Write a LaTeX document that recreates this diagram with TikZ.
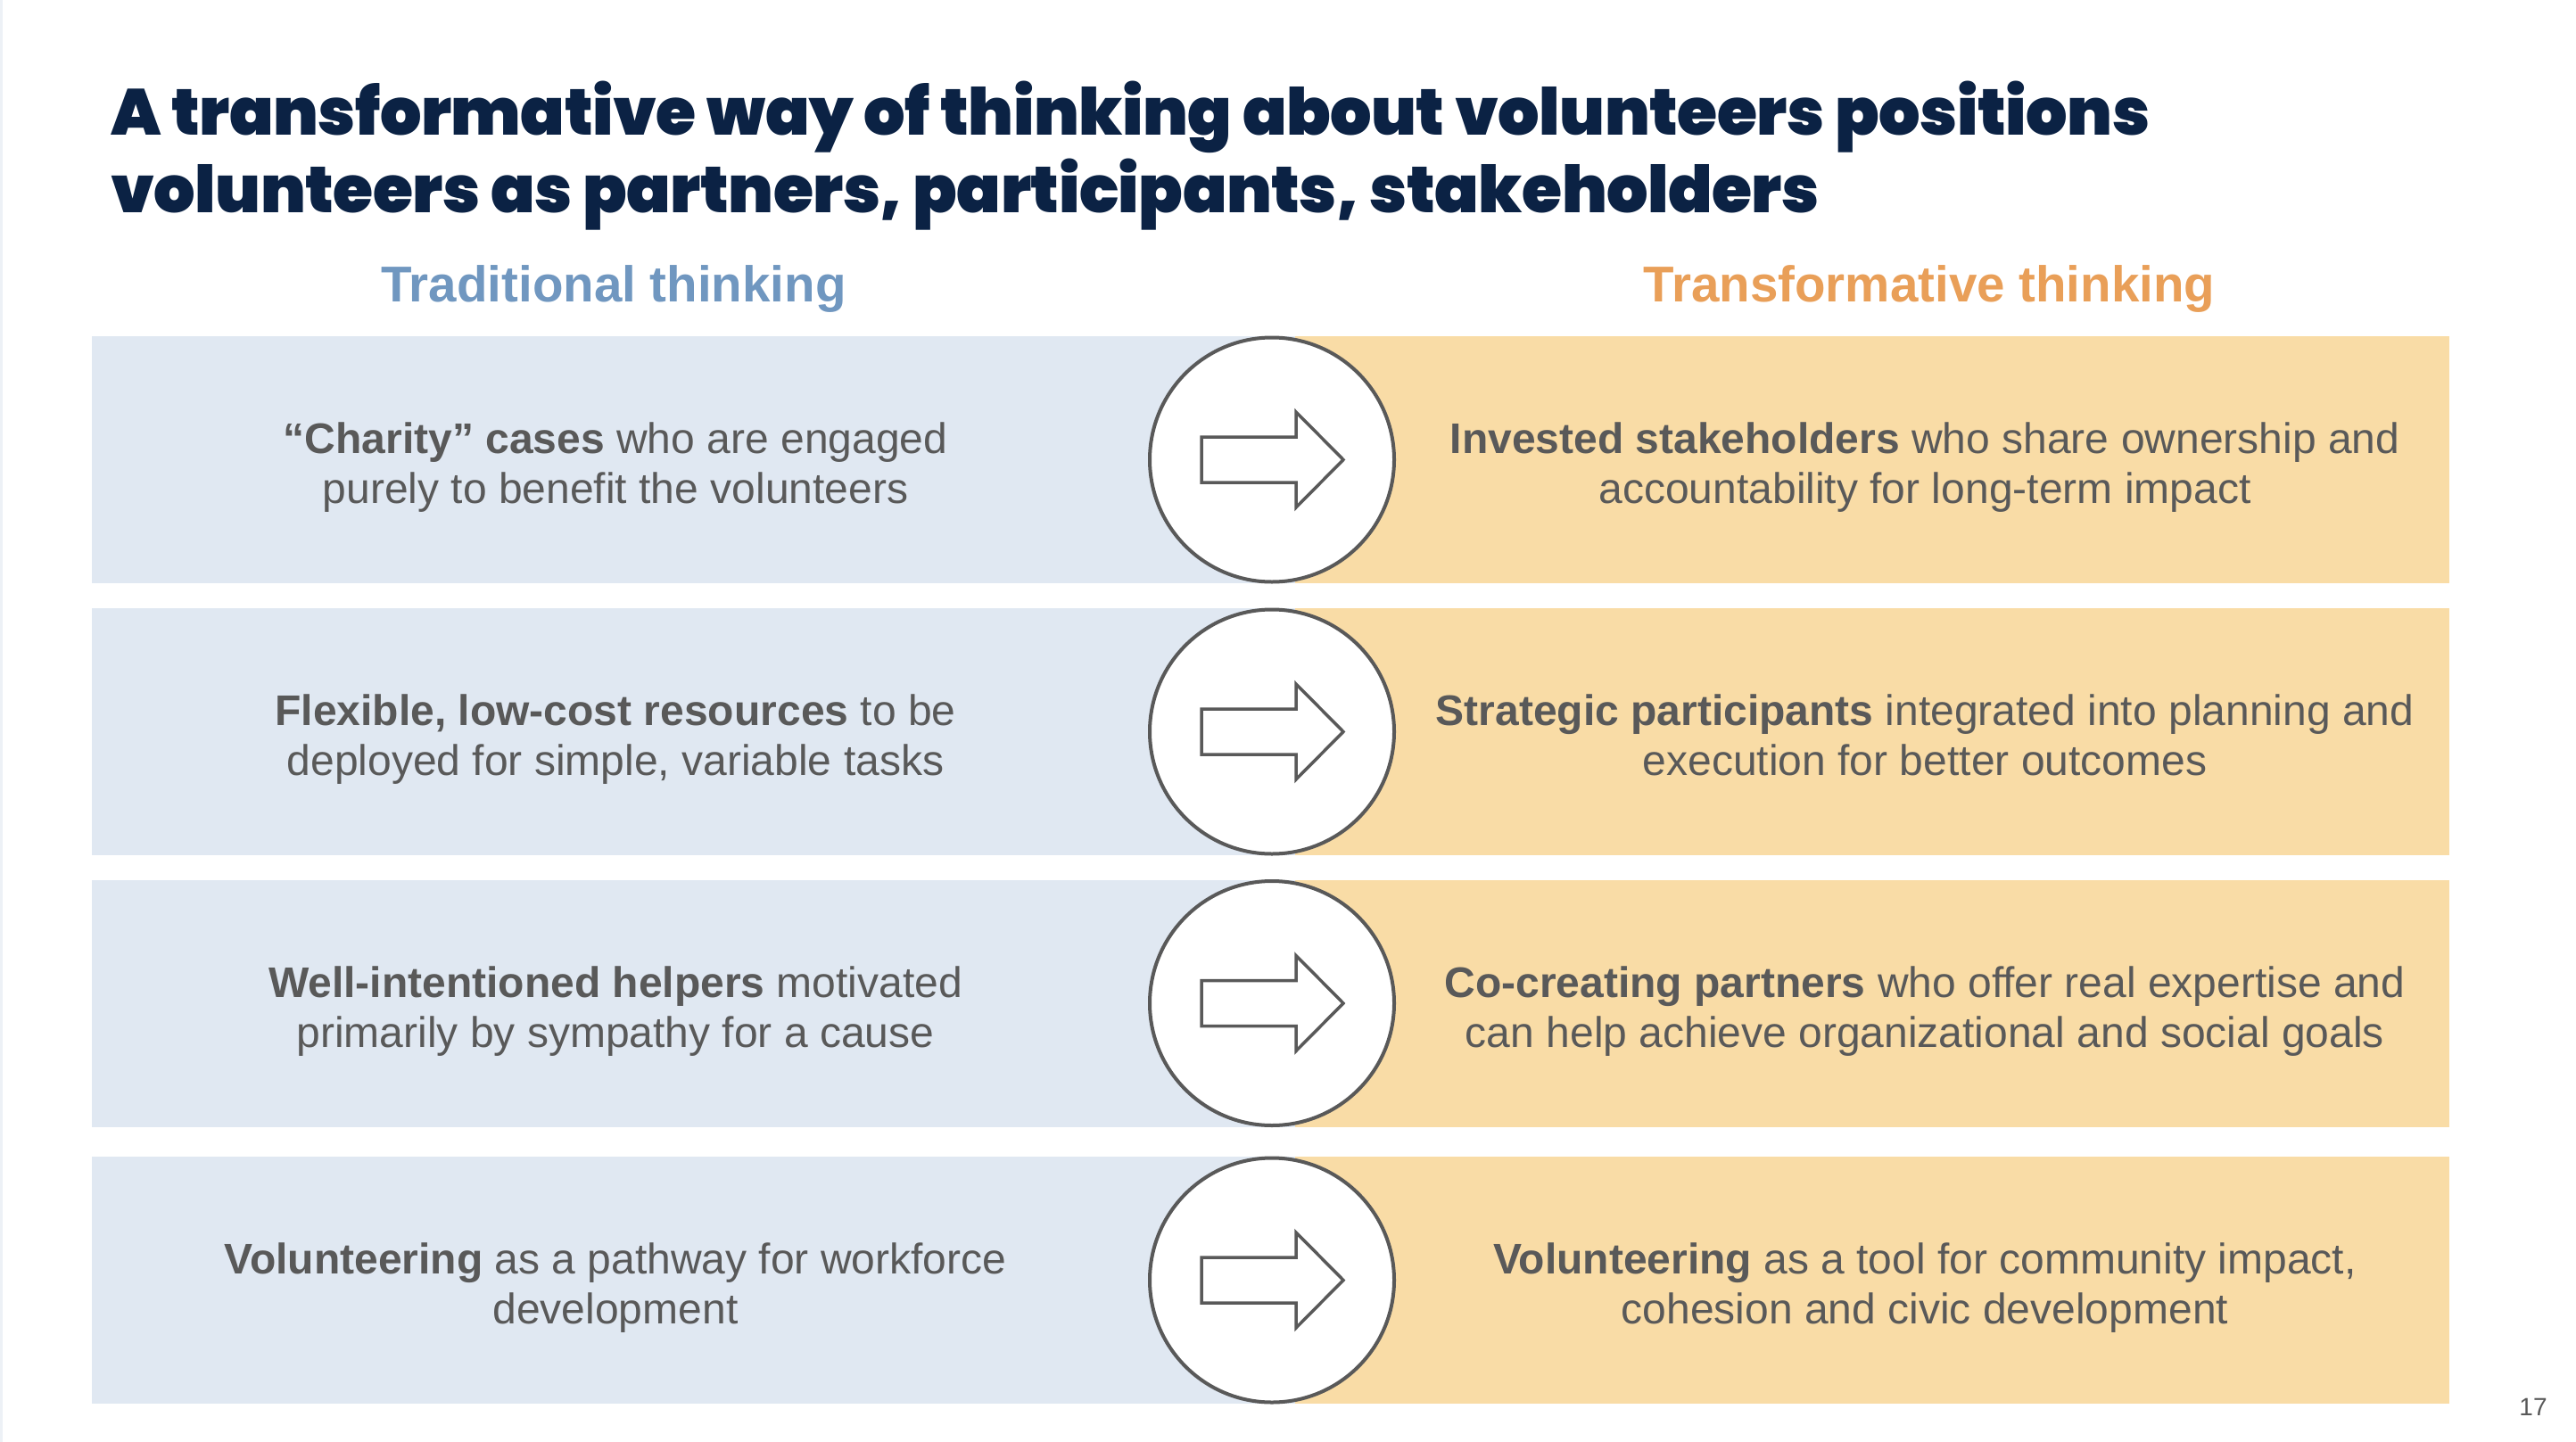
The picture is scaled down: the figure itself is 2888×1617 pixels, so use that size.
\documentclass[tikz,border=0pt]{standalone}
\usepackage{fontspec}
\setmainfont{Liberation Sans}
\newfontfamily\titlefont{Poppins Black}[LetterSpace=-0.7]
\definecolor{navy}{HTML}{0B2244}
\definecolor{txtgray}{HTML}{595959}
\definecolor{hdrblue}{HTML}{7097C0}
\definecolor{hdrorange}{HTML}{E99F58}
\definecolor{boxblue}{HTML}{E0E8F2}
\definecolor{boxorange}{HTML}{F9DCA6}
\definecolor{edgeline}{HTML}{EDF1F6}
\tikzset{
  titletext/.style={anchor=base west, inner sep=0, text=navy, font=\titlefont\fontsize{73bp}{87bp}\selectfont},
  hdr/.style={anchor=base, inner sep=0, font=\bfseries\fontsize{56.5bp}{66bp}\selectfont},
  leftbox/.style={rectangle, fill=boxblue, draw=none, minimum width=1349bp, minimum height=277bp, inner sep=0},
  rightbox/.style={rectangle, fill=boxorange, draw=none, minimum width=1294bp, minimum height=277bp, inner sep=0},
  bodytext/.style={align=center, inner sep=0, text=txtgray, font=\fontsize{48bp}{56bp}\selectfont},
  circ/.style={circle, draw=txtgray, line width=4bp, fill=white, minimum size=274bp, inner sep=0},
  arrowshape/.style={draw=txtgray, line width=3.5bp, fill=white, line join=miter},
}
\newcommand{\rowarrow}[1]{%
  \draw[arrowshape] ([shift={(-79,-25.5)}]#1.center) -- ++(106,0) -- ++(0,-28) -- ++(53,53.5) -- ++(-53,53.5) -- ++(0,-28) -- ++(-106,0) -- cycle;}
\begin{document}
\begin{tikzpicture}[x=1bp,y=-1bp]
\useasboundingbox (0,0) rectangle (2888,1617);
\fill[white] (0,0) rectangle (2888,1617);
\fill[edgeline] (0,0) rectangle (2.5,1617);

\node[titletext] (title1) at (124,151) {A transformative way of thinking about volunteers positions};
\node[titletext] (title2) at (124,238) {volunteers as partners, participants, stakeholders};

\node[hdr, text=hdrblue] (hl) at (688,338) {Traditional thinking};
\node[hdr, text=hdrorange] (hr) at (2163,338) {Transformative thinking};

% row boxes
\node[leftbox] (lb1) at (777.5,515.5) {};
\node[leftbox] (lb2) at (777.5,820.5) {};
\node[leftbox] (lb3) at (777.5,1125) {};
\node[leftbox] (lb4) at (777.5,1435.5) {};
\node[rightbox] (rb1) at (2099,515.5) {};
\node[rightbox] (rb2) at (2099,820.5) {};
\node[rightbox] (rb3) at (2099,1125) {};
\node[rightbox] (rb4) at (2099,1435.5) {};

% texts
\node[bodytext] (lt1) at (690,525.3) {\strut\textbf{“Charity” cases} who are engaged\\purely to benefit the volunteers\strut};
\node[bodytext] (lt2) at (690,830.3) {\strut\textbf{Flexible, low-cost resources} to be\\deployed for simple, variable tasks\strut};
\node[bodytext] (lt3) at (690,1134.8) {\strut\textbf{Well-intentioned helpers} motivated\\primarily by sympathy for a cause\strut};
\node[bodytext] (lt4) at (690,1445.3) {\strut\textbf{Volunteering} as a pathway for workforce\\development\strut};
\node[bodytext] (rt1) at (2158,525.3) {\strut\textbf{Invested stakeholders} who share ownership and\\accountability for long-term impact\strut};
\node[bodytext] (rt2) at (2158,830.3) {\strut\textbf{Strategic participants} integrated into planning and\\execution for better outcomes\strut};
\node[bodytext] (rt3) at (2158,1134.8) {\strut\textbf{Co-creating partners} who offer real expertise and\\can help achieve organizational and social goals\strut};
\node[bodytext] (rt4) at (2158,1445.3) {\strut\textbf{Volunteering} as a tool for community impact,\\cohesion and civic development\strut};

% circles with arrows
\node[circ] (c1) at (1426,515.5) {};
\node[circ] (c2) at (1426,820.5) {};
\node[circ] (c3) at (1426,1125) {};
\node[circ] (c4) at (1426,1435.5) {};
\rowarrow{c1}
\rowarrow{c2}
\rowarrow{c3}
\rowarrow{c4}

\node[anchor=base, inner sep=0, text=txtgray, font=\fontsize{28bp}{32bp}\selectfont] (pg) at (2840,1587) {17};
\end{tikzpicture}
\end{document}
